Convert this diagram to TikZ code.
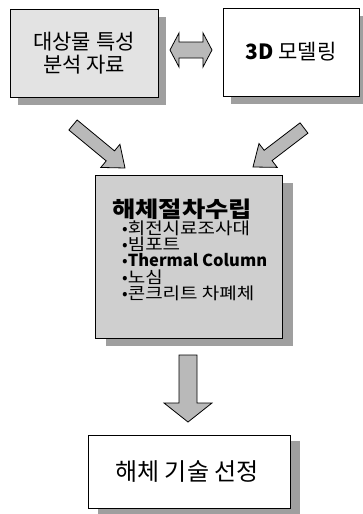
\documentclass[tikz,border=0pt]{standalone}
\usepackage{fontspec}
\setmainfont{Noto Sans CJK KR}
\newfontfamily\widekr[FakeStretch=1.15]{Noto Sans CJK KR}
\usetikzlibrary{calc,shadows}
\tikzset{
  box/.style={draw=black, line width=0.8pt, inner sep=0pt, align=center},
  shad/.style={drop shadow={shadow xshift=#1, shadow yshift=-8pt, fill=gray!75, opacity=1}},
  barrow/.style={draw=black, line width=0.8pt, fill=gray!55, line join=miter},
  txt/.style={inner sep=0pt, align=left, anchor=west},
  bul/.style={txt, font=\fontsize{16.5}{18}\selectfont}
}
\newcommand\blockarrow[5]{%
  \path ($(#2)!#5!(#1)$) coordinate (tmpH);
  \draw[barrow] ($(#1)!#3!90:(#2)$) -- ($(tmpH)!#3!90:(#2)$) -- ($(tmpH)!#4!90:(#2)$) -- (#2)
     -- ($(tmpH)!#4!-90:(#2)$) -- ($(tmpH)!#3!-90:(#2)$) -- ($(#1)!#3!-90:(#2)$) -- cycle;}
\begin{document}
\begin{tikzpicture}[x=1pt,y=-1pt]
\useasboundingbox (0,0) rectangle (363,514);
% boxes
\node[box, shad=8pt, fill=gray!22, minimum width=148pt, minimum height=88pt,
      font=\fontsize{21}{23}\selectfont] (src) at (84,53) {대상물 특성\\분석 자료};
\node[box, shad=8pt, fill=white, minimum width=136pt, minimum height=88pt,
      font=\fontsize{21}{23}\selectfont] (mod) at (291,52) {\textbf{3D} 모델링};
\node[box, drop shadow={shadow xshift=11pt, shadow yshift=-8pt, fill=gray!75, opacity=1},
      fill=gray!38, minimum width=187pt, minimum height=163pt] (plan) at (188.5,256.5) {};
\node[box, drop shadow={shadow xshift=10pt, shadow yshift=-6pt, fill=gray!75, opacity=1},
      fill=white, minimum width=202pt, minimum height=73pt,
      font=\fontsize{24}{26}\selectfont] (sel) at (189,471.5) {\hspace*{-4pt}해체 기술 선정};
% text in middle box
\node[txt, font=\fontsize{22}{24}\selectfont\widekr\bfseries] (title) at (112,209) {해체절차수립};
\node[bul] (b1) at (122,228) {•{\widekr 회전시료조사대}};
\node[bul] (b2) at (122,244) {•{\widekr 빔포트}};
\node[bul] (b3) at (122,260.5) {•\textbf{Thermal Column}};
\node[bul] (b4) at (122,277) {•{\widekr 노심}};
\node[bul] (b5) at (122,293.5) {•{\widekr 콘크리트 차폐체}};
% arrow end points
\coordinate (dl) at (170,50);
\coordinate (dr) at (212,50);
\coordinate (l1) at (73,125);
\coordinate (l2) at (125,168);
\coordinate (r1) at (304,128);
\coordinate (r2) at (253,167);
\coordinate (d1) at (188,355);
\coordinate (d2) at (188,422);
% double arrow
\draw[barrow] (dl) -- ($(dl)+(9,-17)$) -- ($(dl)+(9,-8)$) -- ($(dr)+(-9,-8)$) -- ($(dr)+(-9,-17)$)
   -- (dr) -- ($(dr)+(-9,17)$) -- ($(dr)+(-9,8)$) -- ($(dl)+(9,8)$) -- ($(dl)+(9,17)$) -- cycle;
% block arrows
\blockarrow{l1}{l2}{6.5pt}{15pt}{19pt}
\blockarrow{r1}{r2}{6.5pt}{15pt}{19pt}
\blockarrow{d1}{d2}{9pt}{24pt}{19pt}
\end{tikzpicture}
\end{document}
